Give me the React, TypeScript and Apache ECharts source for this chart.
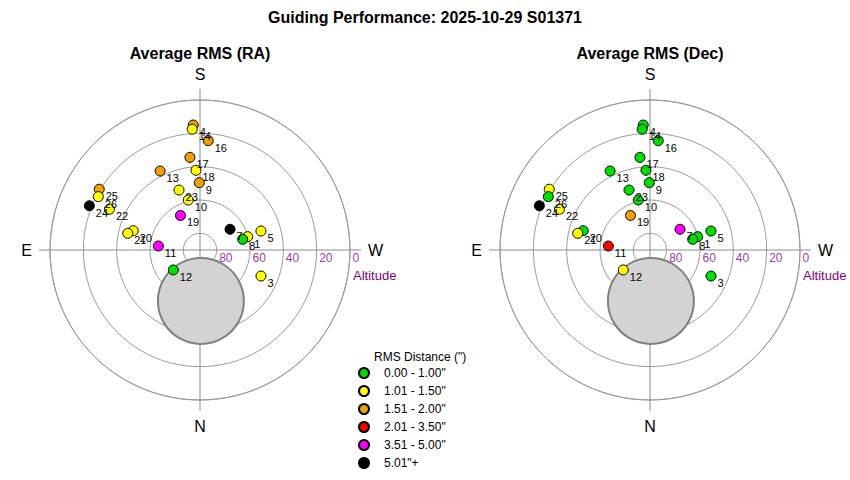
import React, { useEffect, useRef } from 'react';
import * as echarts from 'echarts';

const TITLE = 'Guiding Performance: 2025-10-29 S01371';
const PANEL_TITLES = ['Average RMS (RA)', 'Average RMS (Dec)'];

// Guiding sessions (drawn in session order)
const SESSION_IDS = ['1', '3', '4', '5', '7', '8', '9', '10', '11', '12', '13', '14', '16', '17', '18', '19', '20', '21', '22', '23', '24', '25', '26'];
const AZIMUTH = [254.4, 293.1, 176.9, 252.7, 235.4, 255.9, 179.4, 166.8, 95.5, 53.2, 153.2, 176.3, 184.3, 173.8, 177.1, 150.5, 106.1, 103.0, 114.2, 160.7, 111.8, 121.1, 117.7];
const ALTITUDE = [60.3, 50.2, 14.9, 51.7, 68.1, 63.6, 49.6, 59.2, 64.9, 70.0, 36.9, 17.4, 24.2, 34.1, 42.1, 66.2, 48.3, 45.5, 30.4, 51.9, 18.5, 19.4, 21.1];
// RMS class index per session (0: 0.00-1.00 ... 5: 5.01+)
const RA_CLASS = [1, 1, 2, 1, 5, 0, 2, 1, 4, 0, 2, 1, 2, 2, 1, 4, 1, 1, 1, 1, 5, 2, 1];
const DEC_CLASS = [0, 0, 0, 0, 4, 0, 0, 0, 3, 1, 0, 0, 0, 0, 0, 2, 0, 1, 1, 0, 5, 1, 0];

const CLASS_LABELS = ['0.00 - 1.00"', '1.01 - 1.50"', '1.51 - 2.00"', '2.01 - 3.50"', '3.51 - 5.00"', '5.01"+'];
const CLASS_COLORS = ['#00dd00', '#ffff00', '#f0a000', '#ff0000', '#ff00ff', '#000000'];

const ALT_TICKS = [80, 60, 40, 20, 0];
const DIRECTION_ANGLES = [0, 90, 180, 270];
const DIRECTION_NAMES = ['N', 'E', 'S', 'W'];

// obstructed region (grey disk)
const OBSTRUCTION = [59.4, 359];

const FONT = 'Liberation Sans, Arial, sans-serif';
const CENTERS = [[200, 250], [650, 250]];
const R = 150;
const CROSS = 161;

function buildOption() {
  const classes = [RA_CLASS, DEC_CLASS];
  const series: any[] = [];
  const graphic: any[] = [];

  CLASS_LABELS.forEach((name, k) => {
    series.push({
      type: 'scatter', coordinateSystem: 'polar', polarIndex: 0, name, data: [],
      symbol: 'circle', symbolSize: 10,
      itemStyle: { color: CLASS_COLORS[k], borderColor: '#000', borderWidth: 1, opacity: 1 },
    });
  });

  CENTERS.forEach((c, i) => {
    series.push({
      type: 'scatter', coordinateSystem: 'polar', polarIndex: i, name: 'obstruction' + i,
      silent: true, symbol: 'circle', symbolSize: 86, z: 1,
      itemStyle: { color: '#d3d3d3', borderColor: '#808080', borderWidth: 2, opacity: 1 },
      data: [OBSTRUCTION],
    });
    series.push({
      type: 'scatter', coordinateSystem: 'polar', polarIndex: i, name: 'altlabels' + i,
      silent: true, symbol: 'circle', symbolSize: 1, z: 3,
      itemStyle: { color: 'transparent' },
      label: {
        show: true, position: 'right', distance: 2, offset: [0, 8],
        formatter: (p: any) => String(p.value[0]), color: '#800080', fontSize: 12, fontFamily: FONT,
      },
      data: ALT_TICKS.map((a) => [a, 270]),
    });
    series.push({
      type: 'scatter', coordinateSystem: 'polar', polarIndex: i, name: i === 0 ? 'RA' : 'Dec',
      symbol: 'circle', symbolSize: 10, z: 4,
      label: {
        show: true, position: 'right', distance: 1, offset: [0, 7],
        formatter: (p: any) => SESSION_IDS[p.dataIndex], color: '#000', fontSize: 11, fontFamily: FONT,
      },
      data: SESSION_IDS.map((_, j) => ({
        value: [ALTITUDE[j], AZIMUTH[j]],
        itemStyle: { color: CLASS_COLORS[classes[i][j]], borderColor: '#000', borderWidth: 1, opacity: 1 },
      })),
    });

    graphic.push({
      type: 'line', z: 0, silent: true,
      shape: { x1: c[0] - CROSS, y1: c[1], x2: c[0] + CROSS, y2: c[1] },
      style: { stroke: '#8c8c8c', lineWidth: 1 },
    });
    graphic.push({
      type: 'line', z: 0, silent: true,
      shape: { x1: c[0], y1: c[1] - CROSS, x2: c[0], y2: c[1] + CROSS },
      style: { stroke: '#8c8c8c', lineWidth: 1 },
    });
    graphic.push({
      type: 'text', silent: true, x: c[0] + R + 3, y: c[1] + 25,
      style: {
        text: 'Altitude', fill: '#800080', fontSize: 13, fontFamily: FONT,
        align: 'left', verticalAlign: 'middle', textAlign: 'left', textVerticalAlign: 'middle',
      },
    });
  });

  graphic.push({
    type: 'text', silent: true, x: 374, y: 357,
    style: {
      text: 'RMS Distance (")', fill: '#000', fontSize: 12, fontFamily: FONT,
      align: 'left', verticalAlign: 'middle', textAlign: 'left', textVerticalAlign: 'middle',
    },
  });

  return {
    animation: false,
    textStyle: { fontFamily: FONT },
    title: [
      { text: TITLE, left: 425, textAlign: 'center', top: 9, padding: 0, textStyle: { fontSize: 16, fontWeight: 'bold', color: '#000', fontFamily: FONT } },
      ...PANEL_TITLES.map((t, i) => ({
        text: t, left: CENTERS[i][0], textAlign: 'center', top: 45, padding: 0,
        textStyle: { fontSize: 16, fontWeight: 'bold', color: '#000', fontFamily: FONT },
      })),
    ],
    polar: CENTERS.map((c) => ({ center: [c[0], c[1]], radius: R })),
    angleAxis: CENTERS.map((_, i) => ({
      polarIndex: i, type: 'value', min: 0, max: 360, interval: 90, startAngle: 270, clockwise: true,
      axisLine: { show: true, lineStyle: { color: '#9a9a9a', width: 1 } },
      axisTick: { show: false },
      splitLine: { show: false },
      axisLabel: {
        show: true, margin: 18, color: '#000', fontSize: 16, fontFamily: FONT,
        formatter: (v: number) => {
          const idx = DIRECTION_ANGLES.indexOf(v);
          return idx >= 0 ? DIRECTION_NAMES[idx] : '';
        },
      },
    })),
    radiusAxis: CENTERS.map((_, i) => ({
      polarIndex: i, type: 'value', min: 0, max: 90, interval: 20, inverse: true,
      axisLine: { show: false }, axisTick: { show: false }, axisLabel: { show: false },
      splitLine: { show: true, lineStyle: { color: '#9a9a9a', width: 1 } },
    })),
    legend: {
      orient: 'vertical', left: 353, top: 362, itemWidth: 30, itemHeight: 10, itemGap: 6,
      selectedMode: false, data: CLASS_LABELS,
      textStyle: { fontSize: 12, color: '#000', fontFamily: FONT },
    },
    graphic,
    series,
  };
}

export default function App() {
  const ref = useRef<HTMLDivElement>(null);
  useEffect(() => {
    if (!ref.current) return;
    const chart = echarts.init(ref.current, undefined, { renderer: 'svg' });
    chart.setOption(buildOption() as any);
    return () => chart.dispose();
  }, []);
  return (
    <div
      ref={ref}
      style={{ position: 'absolute', left: 0, top: 0, width: 850, height: 480, background: '#fff' }}
    />
  );
}
